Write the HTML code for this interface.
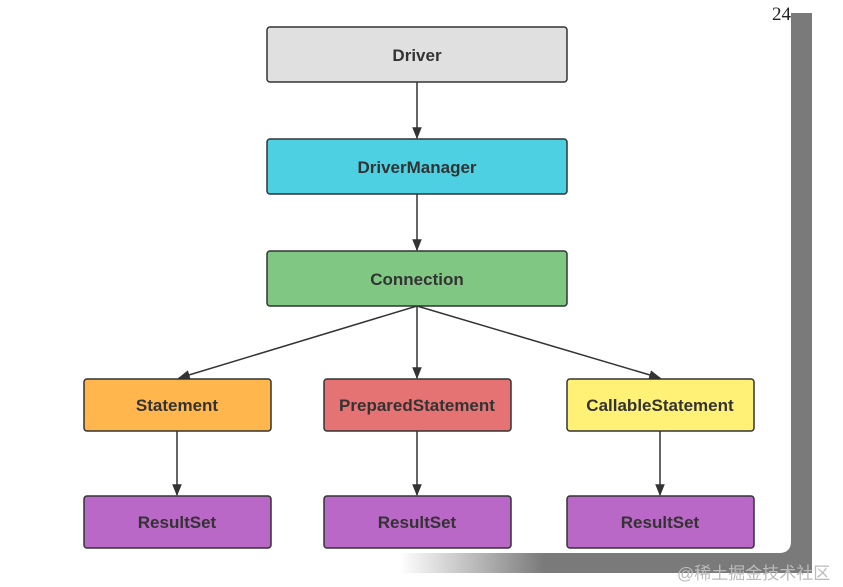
<!DOCTYPE html>
<html><head><meta charset="utf-8"><style>
html,body{margin:0;padding:0;background:#fff;}
svg{display:block;}
text{font-family:"Liberation Sans","Noto Sans CJK SC",sans-serif;font-weight:bold;font-size:17px;fill:#333;}
</style></head><body>
<svg width="843" height="587" viewBox="0 0 843 587">
<defs>
<linearGradient id="g" x1="0" x2="1" y1="0" y2="0">
<stop offset="0" stop-color="#fff"/>
<stop offset="0.35" stop-color="#7a7a7a"/>
<stop offset="1" stop-color="#7a7a7a"/>
</linearGradient>
<marker id="a" viewBox="0 0 10 10" refX="9" refY="5" markerWidth="8" markerHeight="8" orient="auto">
<path d="M0,1 L10,5 L0,9 z" fill="#333"/>
</marker>
</defs>
<rect x="791" y="13" width="21" height="560" fill="#7a7a7a"/>
<rect x="400" y="553" width="412" height="20" fill="url(#g)"/>
<rect x="400" y="540" width="391" height="13" fill="#fff"/>
<path d="M779,553 L791,553 L791,541 Q791,553 779,553Z" fill="#7a7a7a"/>
<text x="772" y="20" style="font-family:'Liberation Serif',serif;font-weight:normal;font-size:19px;fill:#222">24</text>
<text x="677" y="579" style="font-weight:normal;font-size:17px;fill:#bbb">@稀土掘金技术社区</text>
<g stroke="#333" stroke-width="1.5" fill="none" marker-end="url(#a)">
<line x1="417" y1="82" x2="417" y2="138"/>
<line x1="417" y1="194" x2="417" y2="250"/>
<line x1="417" y1="306" x2="417" y2="378"/>
<line x1="417" y1="306" x2="179" y2="378"/>
<line x1="417" y1="306" x2="660" y2="378"/>
<line x1="177" y1="431" x2="177" y2="495"/>
<line x1="417" y1="431" x2="417" y2="495"/>
<line x1="660" y1="431" x2="660" y2="495"/>
</g>
<g stroke="#333" stroke-width="1.5">
<rect x="267" y="27" width="300" height="55" rx="3" fill="#e0e0e0"/>
<rect x="267" y="139" width="300" height="55" rx="3" fill="#4dd0e1"/>
<rect x="267" y="251" width="300" height="55" rx="3" fill="#81c784"/>
<rect x="84" y="379" width="187" height="52" rx="3" fill="#ffb74d"/>
<rect x="324" y="379" width="187" height="52" rx="3" fill="#e57373"/>
<rect x="567" y="379" width="187" height="52" rx="3" fill="#fff176"/>
<rect x="84" y="496" width="187" height="52" rx="3" fill="#ba68c8"/>
<rect x="324" y="496" width="187" height="52" rx="3" fill="#ba68c8"/>
<rect x="567" y="496" width="187" height="52" rx="3" fill="#ba68c8"/>
</g>
<g text-anchor="middle">
<text x="417" y="61">Driver</text>
<text x="417" y="173">DriverManager</text>
<text x="417" y="285">Connection</text>
<text x="177" y="411">Statement</text>
<text x="417" y="411">PreparedStatement</text>
<text x="660" y="411">CallableStatement</text>
<text x="177" y="528">ResultSet</text>
<text x="417" y="528">ResultSet</text>
<text x="660" y="528">ResultSet</text>
</g>
</svg>
</body></html>
